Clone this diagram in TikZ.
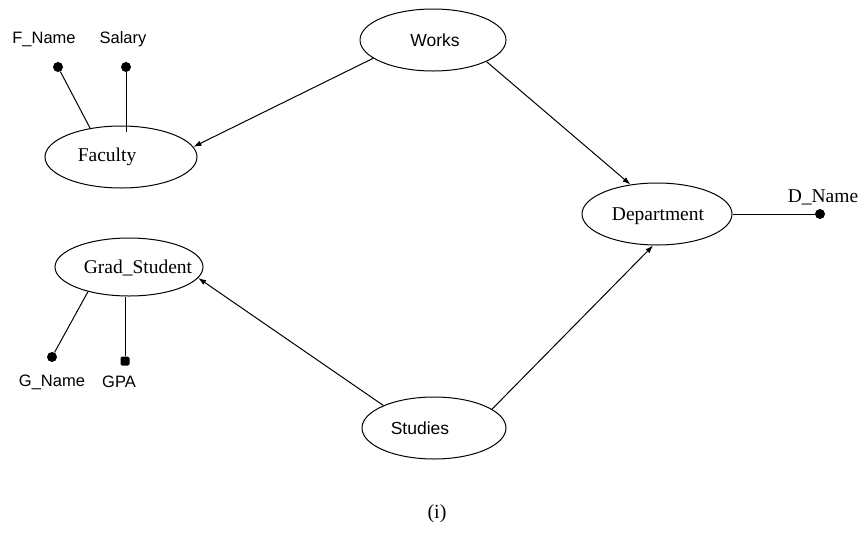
\documentclass[tikz,border=0pt]{standalone}
\usepackage{fontspec}
\setmainfont{Liberation Serif}
\newfontfamily\arial{Liberation Sans}
\usetikzlibrary{shapes.geometric,arrows.meta}

\tikzset{
  ent/.style={draw, ellipse, line width=1pt, inner sep=0pt,
    minimum width=#1*2pt, minimum height=62pt},
  serlab/.style={font=\fontsize{19.5}{21}\selectfont, inner sep=0pt},
  sanlab/.style={font=\arial\fontsize{16.5}{18}\selectfont, inner sep=0pt},
  attrdot/.style={circle, fill=black, inner sep=0pt, minimum size=10pt},
  link/.style={line width=1pt, -{Latex[length=8pt,width=5.5pt]}},
  attrline/.style={line width=1pt},
}

\begin{document}
\begin{tikzpicture}[x=1pt, y=-1pt]
  \useasboundingbox (0,0) rectangle (865,536);

  % entity and relationship ellipses
  \node[ent=73] (works) at (433,40) {};
  \node[ent=76] (fac)   at (121,157) {};
  \node[ent=75] (dep)   at (657,214) {};
  \node[ent=74, minimum height=58pt] (grad)  at (129,267) {};
  \node[ent=72] (stud)  at (434,428) {};

  % their names
  \node[sanlab, font=\arial\fontsize{17.5}{19}\selectfont] (tworks) at ([xshift=2pt]works.center) {Works};
  \node[serlab] (tfac)  at ([xshift=-14pt]fac.center) {Faculty};
  \node[serlab] (tdep)  at ([xshift=1pt,yshift=-2pt]dep.center) {Department};
  \node[serlab] (tgrad) at ([xshift=9pt,yshift=-1pt]grad.center) {Grad\_Student};
  \node[sanlab, font=\arial\fontsize{17.5}{19}\selectfont] (tstud) at ([xshift=-14pt]stud.center) {Studies};

  % relationship connectors
  \draw[link] (works.197) -- (fac.8);
  \draw[link] (works.338) -- (dep.132);
  \draw[link] (stud.156) -- (grad.351);
  \draw[link] (stud.18) -- (dep.263);

  % attributes of Faculty
  \node[attrdot] (fn)  at (58,67) {};
  \node[attrdot] (sal) at (126,67) {};
  \node[sanlab] (tfn)  at (44,39) {F\_Name};
  \node[sanlab] (tsal) at (123,39) {Salary};
  \draw[attrline] (fn) -- (fac.137);
  \draw[attrline] (sal) -- ([yshift=-6pt]sal |- fac.north);

  % attributes of Grad_Student
  \node[attrdot] (gn)  at (52,357) {};
  \node[attrdot, rounded corners=1.5pt, rectangle, minimum size=9pt] (gpa) at (125,361) {};
  \node[sanlab] (tgn)  at (52,382) {G\_Name};
  \node[sanlab] (tgpa) at (119,382) {GPA};
  \draw[attrline] (gn) -- (grad.211);
  \draw[attrline] (gpa) -- (gpa |- grad.south);

  % attribute of Department
  \node[attrdot] (dn) at (820,214) {};
  \node[serlab] (tdn) at (823,197) {D\_Name};
  \draw[attrline] (dep.east) -- (dn);

  % caption
  \node[font=\fontsize{20}{22}\selectfont, inner sep=0pt] (cap) at (437,514) {(i)};
\end{tikzpicture}
\end{document}
